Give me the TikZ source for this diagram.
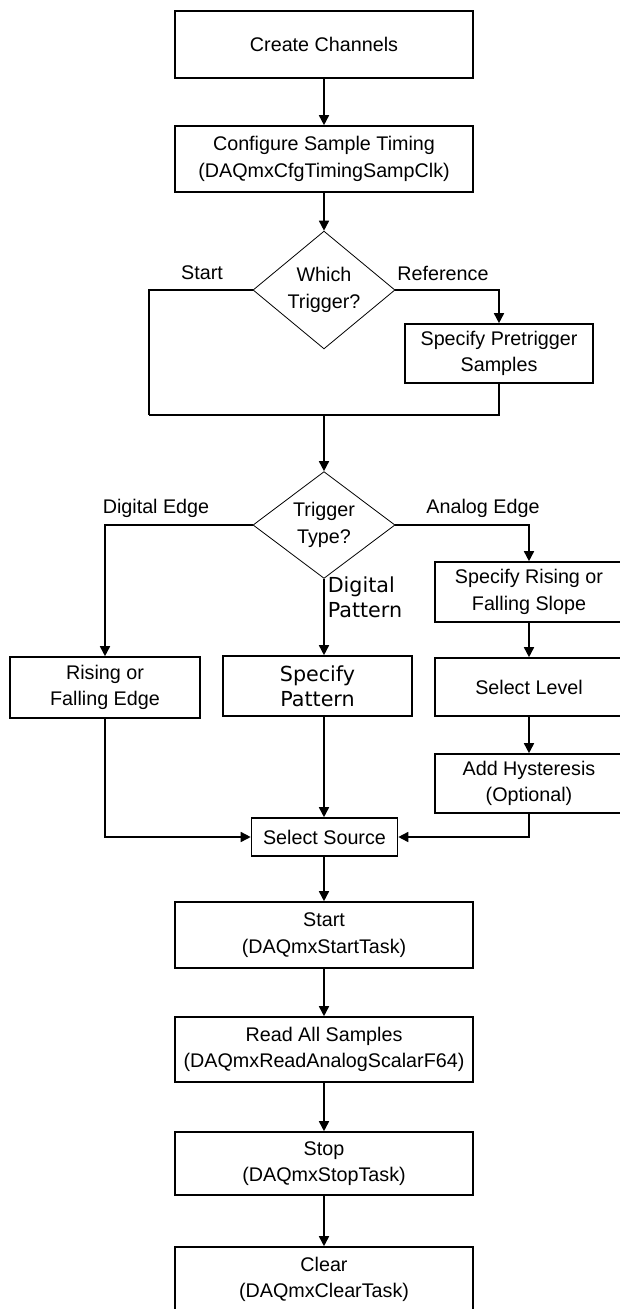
\documentclass[tikz,border=0pt]{standalone}
\usepackage{fontspec}
\setmainfont{Liberation Sans}
\newfontfamily\patfont{DejaVu Sans}
\usetikzlibrary{arrows.meta,shapes.geometric}
\begin{document}
\begin{tikzpicture}[x=0.75pt,y=-0.75pt,>={Triangle[width=7.5pt,length=7.5pt]},line width=1.2pt,line join=miter,
	font=\fontsize{14.8}{20}\selectfont,
	box/.style={draw,rectangle,align=center,inner sep=0pt,minimum width=#1},
	box/.default=223.5pt,
	dec/.style={draw,diamond,line width=0.6pt,align=center,inner sep=0pt,minimum width=106.5pt,minimum height=72pt},
	pat/.style={font=\patfont\fontsize{15.5}{19}\selectfont}]
		\useasboundingbox (0,0) rectangle (620,1309);
		\node[box,minimum height=50pt] (create) at (324,44.5) {Create Channels};
		\node[box,minimum height=49.5pt] (config) at (324,159) {Configure Sample Timing\\(DAQmxCfgTimingSampClk)};
		\node[dec] (which) at (324,290) {Which\\Trigger?};
		\node[box=141pt,minimum height=44.25pt] (pretrig) at (499,353.5) {Specify Pretrigger\\Samples};
		\node[dec] (type) at (324,525) {Trigger\\Type?};
		\node[box=142.5pt,minimum height=45.75pt] (rising) at (105,687.5) {Rising or\\Falling Edge};
		\node[box=141.75pt,minimum height=45pt,pat] (pattern) at (317.5,686) {Specify\\Pattern};
		\node[box=141pt,minimum height=45pt] (slope) at (529,592) {Specify Rising or\\Falling Slope};
		\node[box=141pt,minimum height=43.5pt] (level) at (529,687) {Select Level};
		\node[box=141pt,minimum height=44.25pt] (hyst) at (529,783.5) {Add Hysteresis\\(Optional)};
		\node[box=109.5pt,minimum height=28.5pt] (source) at (324.5,837) {Select Source};
		\node[box,minimum height=49.5pt] (start) at (324,935) {Start\\(DAQmxStartTask)};
		\node[box,minimum height=48.75pt] (read) at (324,1049.5) {Read All Samples\\(DAQmxReadAnalogScalarF64)};
		\node[box,minimum height=47.25pt] (stop) at (324,1163.5) {Stop\\(DAQmxStopTask)};
		\node[box,minimum height=48.75pt] (clear) at (324,1279.5) {Clear\\(DAQmxClearTask)};
		\node (lstart) at (202,273) {Start};
		\node (lref) at (443,273) {Reference};
		\node (ldig) at (156,508) {Digital Edge};
		\node (lana) at (483,508) {Analog Edge};
		\node[pat,align=left,anchor=west,inner sep=0pt] (lpat) at (327,597.5) {Digital\\Pattern};
		\coordinate (loopl) at (149,415);
		\coordinate (loopm) at (324,415);
		\draw[->] (create) -- (config);
		\draw[->] (config) -- (which);
		\draw (which.west) -| (loopl);
		\draw[->] (which.east) -| (pretrig.north);
		\draw (pretrig.south) |- (loopl);
		\draw[->] (loopm) -- (type);
		\draw[->] (type.west) -| (rising.north);
		\draw[->] (type.east) -| (slope.north);
		\draw[->] (type.south) -- (type.south |- pattern.north);
		\draw[->] (slope) -- (level);
		\draw[->] (level) -- (hyst);
		\draw[->] (rising.south) |- (source.west);
		\draw[->] (hyst.south) |- (source.east);
		\draw[->] (type |- pattern.south) -- (type |- source.north);
		\draw[->] (type |- source.south) -- (start);
		\draw[->] (start) -- (read);
		\draw[->] (read) -- (stop);
		\draw[->] (stop) -- (clear);
	\end{tikzpicture}
\end{document}
